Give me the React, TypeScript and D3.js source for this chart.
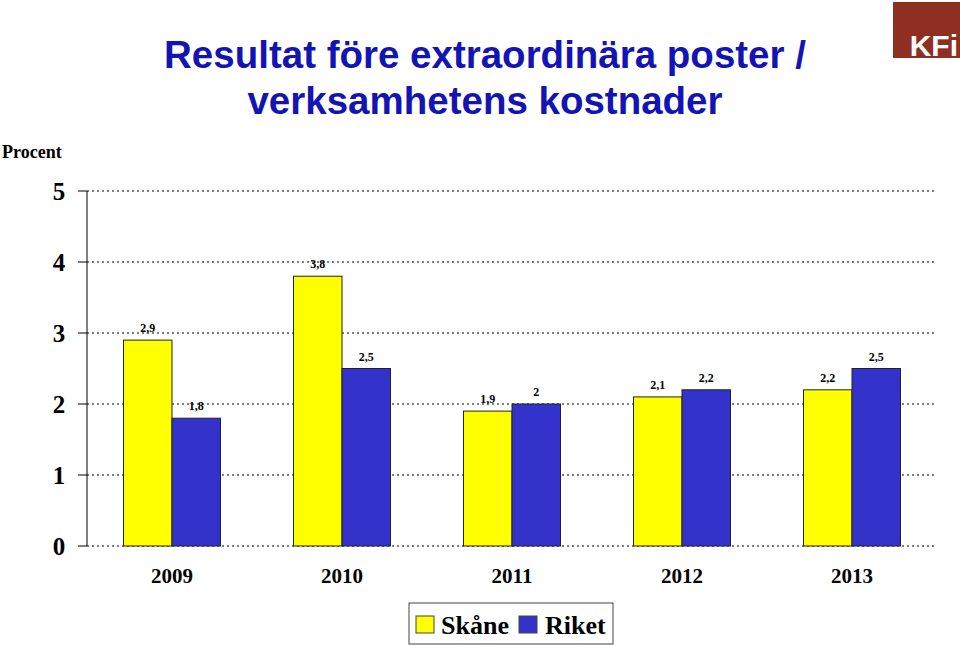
import React from "react";
import * as d3 from "d3";

const years = ["2009", "2010", "2011", "2012", "2013"];
const skane = [2.9, 3.8, 1.9, 2.1, 2.2];
const riket = [1.8, 2.5, 2, 2.2, 2.5];
const seriesNames = ["Skåne", "Riket"];
const seriesColors = ["#ffff00", "#3333cc"];
const yTicks = [0, 1, 2, 3, 4, 5];

const fmt = (v: number) => String(v).replace(".", ",");

export default function App() {
  const W = 960, H = 645;
  const x0 = 87, x1 = 937;
  const yTop = 191, yBot = 546;
  const y = d3.scaleLinear().domain([0, 5]).range([yBot, yTop]);
  const xb = d3.scaleBand().domain(years).range([x0, x1]);
  const xs = d3.scaleBand().domain(seriesNames).range([0, 97]);
  const data = [skane, riket];
  const serif = "'Liberation Serif', 'Times New Roman', serif";
  const sans = "'Liberation Sans', Arial, sans-serif";

  return (
    <svg width={W} height={H} style={{ position: "absolute", left: 0, top: 0 }}>
      <rect width={W} height={H} fill="#fff" />
      {/* Logo */}
      <rect x={893} y={2} width={67} height={56} fill="#8e2f22" />
      <text x={958} y={56} textAnchor="end" fontFamily={sans} fontWeight="bold" fontSize={30} fill="#fff">KFi</text>
      {/* Title */}
      <text x={485} y={68} textAnchor="middle" fontFamily={sans} fontWeight="bold" fontSize={38.5} fill="#1414b4">Resultat före extraordinära poster /</text>
      <text x={485} y={114} textAnchor="middle" fontFamily={sans} fontWeight="bold" fontSize={38.5} fill="#1414b4">verksamhetens kostnader</text>
      <text x={2} y={158} fontFamily={serif} fontWeight="bold" fontSize={18} fill="#000">Procent</text>
      {/* Grid */}
      {yTicks.map((t) => (
        <g key={t}>
          <line x1={x0} x2={x1} y1={y(t)} y2={y(t)} stroke="#000" strokeWidth={1} strokeDasharray="2,3" />
          <line x1={78} x2={x0} y1={y(t)} y2={y(t)} stroke="#000" strokeWidth={1} />
          <text x={59} y={y(t) + 9} textAnchor="middle" fontFamily={serif} fontWeight="bold" fontSize={25}>{t}</text>
        </g>
      ))}
      <line x1={x0} x2={x0} y1={yTop} y2={yBot} stroke="#000" strokeWidth={1} />
      {/* Bars */}
      {years.map((yr, i) => {
        const gx = xb(yr)! + (xb.bandwidth() - 97) / 2;
        return (
          <g key={yr}>
            {data.map((s, j) => {
              const bx = gx + xs(seriesNames[j])!;
              const v = s[i];
              return (
                <g key={j}>
                  <rect x={bx} y={y(v)} width={xs.bandwidth()} height={yBot - y(v)} fill={seriesColors[j]} stroke="#222" strokeWidth={1} />
                  <text x={bx + xs.bandwidth() / 2} y={y(v) - 8} textAnchor="middle" fontFamily={serif} fontWeight="bold" fontSize={12}>{fmt(v)}</text>
                </g>
              );
            })}
            <text x={xb(yr)! + xb.bandwidth() / 2} y={583} textAnchor="middle" fontFamily={serif} fontWeight="bold" fontSize={21}>{yr}</text>
          </g>
        );
      })}
      {/* Legend */}
      <rect x={409} y={603} width={204} height={41} fill="#fff" stroke="#444" strokeWidth={1} />
      <rect x={416} y={616} width={18} height={17} fill={seriesColors[0]} stroke="#444" />
      <text x={441} y={634} fontFamily={serif} fontWeight="bold" fontSize={26}>{seriesNames[0]}</text>
      <rect x={519} y={616} width={18} height={17} fill={seriesColors[1]} stroke="#444" />
      <text x={545} y={634} fontFamily={serif} fontWeight="bold" fontSize={26}>{seriesNames[1]}</text>
    </svg>
  );
}
